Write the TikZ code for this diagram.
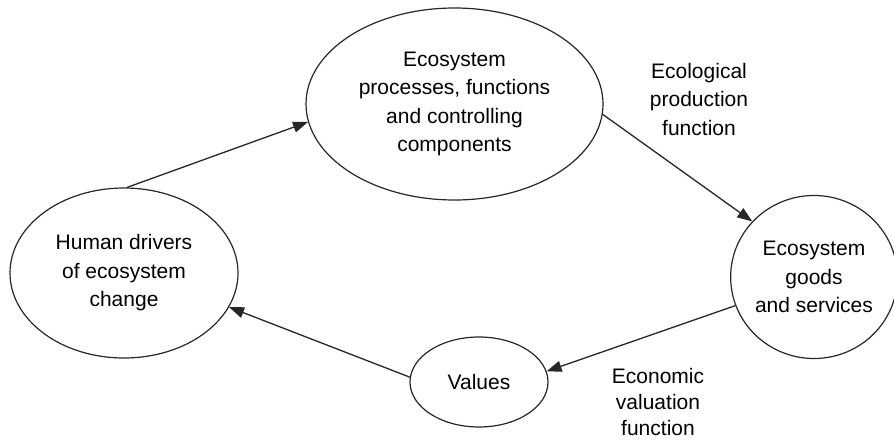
\documentclass[tikz,border=0pt]{standalone}
\usepackage{fontspec}
\setmainfont{Liberation Sans}
\usetikzlibrary{shapes.geometric,arrows.meta}
\begin{document}
\begin{tikzpicture}[x=1pt,y=-1pt,
  bubble/.style={draw=black!85,line width=1.2pt,ellipse,inner sep=0pt,align=center,
    font=\fontsize{21}{28.5}\selectfont},
  lbl/.style={align=center,font=\fontsize{21}{28.5}\selectfont,inner sep=0pt},
  flow/.style={draw=black!85,line width=1.3pt,-{Triangle[length=15pt,width=11pt]}}]
\useasboundingbox (0,0) rectangle (894,439);
\node[bubble,minimum width=228pt,minimum height=170pt] (L) at (124,273) {Human drivers\\of ecosystem\\change};
\node[bubble,minimum width=297pt,minimum height=192pt] (T) at (454.5,104) {Ecosystem\\processes, functions\\and controlling\\components};
\node[bubble,minimum width=158pt,minimum height=163pt] (R) at (814,277) {Ecosystem\\goods\\and services};
\node[bubble,minimum width=138pt,minimum height=90pt] (V) at (479,382) {Values};
\node[lbl] (eco) at (699,99) {Ecological\\production\\function};
\node[lbl,font=\fontsize{21}{26}\selectfont] (val) at (658,402) {Economic\\valuation\\function};
\draw[flow] (L.88) -- (T.187);
\draw[flow] (T.356.5) -- (R.138);
\draw[flow] (R.200) -- (V.9.6);
\draw[flow] (V.176.6) -- (L.342.6);
\end{tikzpicture}
\end{document}
